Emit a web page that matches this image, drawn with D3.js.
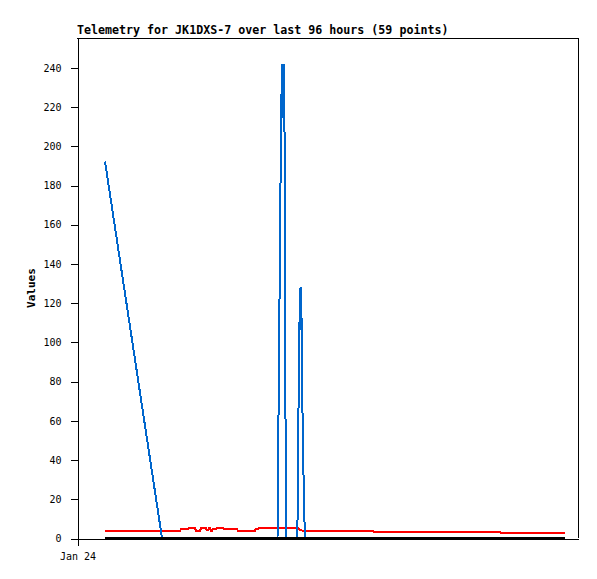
<html>
<head>
    <script src="https://d3js.org/d3.v7.min.js"></script>
    <style type="text/css">
        body { margin: 0; background: #fff; }
        text { font-family: "DejaVu Sans Mono", monospace; }
        .axis text { font-size: 10px; fill: #000; }
        .axis line, .axis path { stroke: #000; shape-rendering: crispEdges; }
        line.frame { stroke: #000; shape-rendering: crispEdges; }
        path.series { fill: none; stroke-width: 2; shape-rendering: crispEdges; }
        text.title { font-size: 11.65px; font-weight: bold; }
        text.ylabel { font-size: 11px; font-weight: bold; }
    </style>
</head>
<body>
    <svg id="plot"></svg>
    <script>
        var SizeX = 597, SizeY = 579;
        var Margin = { left: 77, right: 19, top: 38, bottom: 41 };

        var titleText = "Telemetry for JK1DXS-7 over last 96 hours (59 points)";
        var yLabel = "Values";
        var startTime = Date.UTC(2024, 0, 24, 0, 0);
        var spanHours = 96;
        var xTickHours = [0];
        var xTickLabels = ["Jan 24"];
        var yTicks = [0, 20, 40, 60, 80, 100, 120, 140, 160, 180, 200, 220, 240];
        var yMax = 255;

        // hours since start of window
        var blueHours = [5.37, 16.29, 38.42, 38.51, 38.70, 38.90, 39.09, 39.28, 39.42, 39.51,
                         39.61, 39.72, 39.76, 39.86, 40.05, 42.21, 42.31, 42.44, 42.60, 42.83,
                         42.92, 43.02, 43.11, 43.31, 43.50, 43.69, 93.51];
        var blueValues = [192, 0, 0, 30, 90, 150, 210, 241, 241, 214,
                          241, 241, 210, 120, 0, 0, 21, 64, 107, 128,
                          106, 112, 80, 48, 16, 0, 0];

        var redHours = [5.37, 19.74, 19.93, 21.27, 21.46, 22.61, 22.80, 23.57, 23.76, 24.72,
                        24.91, 25.10, 25.29, 25.49, 25.68, 25.87, 26.06, 26.63, 26.83, 27.98,
                        28.17, 30.66, 30.85, 34.11, 34.30, 34.68, 34.87, 42.35, 42.73, 43.31,
                        56.72, 56.91, 81.05, 81.24, 93.51];
        var redValues = [3.7, 3.7, 4.4, 4.4, 4.9, 4.9, 3.7, 3.7, 4.9, 4.9,
                         4.0, 4.0, 4.9, 4.9, 3.7, 3.7, 4.4, 4.4, 4.9, 4.9,
                         4.4, 4.4, 3.7, 3.7, 4.7, 4.7, 5.0, 5.0, 4.1, 3.6,
                         3.6, 3.0, 3.0, 2.6, 2.6];

        var blackHours = [5.37, 93.51];
        var blackValues = [0, 0];

        function toDate(h) { return new Date(startTime + h * 3600 * 1000); }

        var svg = d3.select("#plot")
            .attr("width", SizeX)
            .attr("height", SizeY);

        var x0 = Margin.left, x1 = SizeX - Margin.right;
        var y0 = SizeY - Margin.bottom, y1 = Margin.top;

        var t_scale = d3.scaleUtc()
            .domain([toDate(0), toDate(spanHours)])
            .range([x0, x1]);

        var y_scale = d3.scaleLinear()
            .domain([0, yMax])
            .range([y0, y1]);

        // frame top / right
        svg.append("line").classed("frame", true)
            .attr("x1", x0).attr("x2", x1).attr("y1", y1 + 0.5).attr("y2", y1 + 0.5);
        svg.append("line").classed("frame", true)
            .attr("x1", x1 + 0.5).attr("x2", x1 + 0.5).attr("y1", y1).attr("y2", y0);

        var y_axis = d3.axisLeft(y_scale)
            .tickValues(yTicks)
            .tickSize(7)
            .tickSizeOuter(0)
            .tickPadding(9)
            .tickFormat(d3.format("d"));
        svg.append("g").classed("axis", true)
            .attr("transform", "translate(" + (x0 + 0.5) + " 0.5)")
            .call(y_axis);

        var t_axis = d3.axisBottom(t_scale)
            .tickValues(xTickHours.map(toDate))
            .tickSize(7)
            .tickSizeOuter(0)
            .tickPadding(7)
            .tickFormat(function(d, i) { return xTickLabels[i]; });
        svg.append("g").classed("axis", true)
            .attr("transform", "translate(0.5 " + (y0 + 0.5) + ")")
            .call(t_axis);

        var line = d3.line()
            .x(function(d) { return t_scale(toDate(d[0])); })
            .y(function(d) { return y_scale(d[1]); });

        function drawSeries(hours, values, color) {
            svg.append("path").classed("series", true)
                .datum(d3.zip(hours, values))
                .attr("stroke", color)
                .attr("d", line);
        }

        drawSeries(redHours, redValues, "#ff0000");
        drawSeries(blueHours, blueValues, "#0066cc");
        drawSeries(blackHours, blackValues, "#000000");

        svg.append("text").classed("title", true)
            .attr("x", x0)
            .attr("y", 34)
            .text(titleText);

        svg.append("text").classed("ylabel", true)
            .attr("transform", "translate(35 " + ((y0 + y1) / 2) + ") rotate(-90)")
            .attr("text-anchor", "middle")
            .text(yLabel);
    </script>
</body>
</html>
